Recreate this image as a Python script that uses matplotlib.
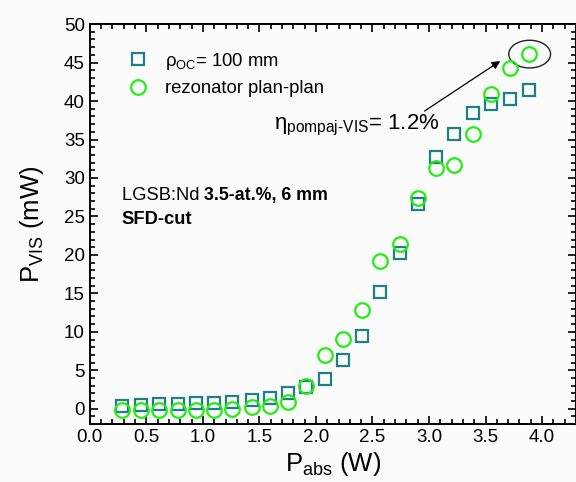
import matplotlib
matplotlib.use("Agg")
import matplotlib.pyplot as plt
from matplotlib.patches import Ellipse
from matplotlib.ticker import MultipleLocator

plt.rcParams['font.family'] = ['Liberation Sans', 'DejaVu Sans']
plt.rcParams['mathtext.fontset'] = 'custom'
plt.rcParams['mathtext.rm'] = 'Liberation Sans'
plt.rcParams['mathtext.it'] = 'Liberation Sans'
plt.rcParams['mathtext.bf'] = 'Liberation Sans:bold'

# absorbed pump power (W)
p_abs = [0.28, 0.45, 0.61, 0.78, 0.94, 1.10, 1.26, 1.43, 1.59, 1.75, 1.91,
         2.08, 2.24, 2.41, 2.57, 2.74, 2.90, 3.06, 3.22, 3.39, 3.55, 3.72, 3.88]
# visible output (mW), rho_OC = 100 mm
p_vis_oc = [0.4, 0.5, 0.6, 0.6, 0.7, 0.7, 0.9, 1.1, 1.4, 2.1, 2.8,
            3.9, 6.4, 9.4, 15.2, 20.2, 26.6, 32.7, 35.7, 38.4, 39.6, 40.3, 41.4]
# visible output (mW), plan-plan resonator
p_vis_pp = [-0.1, -0.1, -0.1, -0.1, -0.1, -0.1, 0.0, 0.2, 0.4, 0.9, 2.9,
            7.0, 9.1, 12.9, 19.2, 21.4, 27.4, 31.3, 31.7, 35.7, 40.9, 44.3, 46.1]

teal = '#1f7f88'
green = '#22ee11'

fig = plt.figure(figsize=(5.76, 4.82), dpi=100, facecolor='#fbfbfb')
ax = fig.add_axes([0.156, 0.12, 0.844, 0.83], facecolor='#fbfbfb')

ax.plot(p_abs, p_vis_oc, linestyle='none', marker='s', ms=9, mfc='none',
        mec=teal, mew=1.6, label=r'$\rho_{\mathrm{OC}}$= 100 mm')
ax.plot(p_abs, p_vis_pp, linestyle='none', marker='o', ms=10.5, mfc='none',
        mec=green, mew=1.6, label='rezonator plan-plan')

ax.set_xlim(0, 4.3)
ax.set_ylim(-2, 50)
ax.xaxis.set_major_locator(MultipleLocator(0.5))
ax.xaxis.set_minor_locator(MultipleLocator(0.1))
ax.yaxis.set_major_locator(MultipleLocator(5))
ax.yaxis.set_minor_locator(MultipleLocator(1))
ax.xaxis.set_major_formatter(plt.FormatStrFormatter('%.1f'))
ax.tick_params(which='both', direction='in', top=True, right=True,
               labelsize=13.5, width=1.2)
ax.tick_params(which='major', length=6)
ax.tick_params(which='minor', length=3.5)
for s in ax.spines.values():
    s.set_linewidth(1.4)

ax.set_xlabel(r'P$_{\mathrm{abs}}$ (W)', fontsize=18.5, labelpad=3)
ax.set_ylabel(r'P$_{\mathrm{VIS}}$ (mW)', fontsize=18.5, labelpad=13)

ax.legend(loc='upper left', bbox_to_anchor=(0.045, 0.975), frameon=False,
          fontsize=13.3, handletextpad=1.0, labelspacing=0.45, handlelength=1.0)

# sample description, regular + bold parts
t1 = ax.text(0.28, 27.1, 'LGSB:Nd ', fontsize=13.2)
ax.annotate('3.5-at.%, 6 mm', xycoords=t1, xy=(1, 0), va='bottom',
            fontsize=12.8, fontweight='bold')
ax.text(0.28, 24.0, 'SFD-cut', fontsize=13.2, fontweight='bold')

ax.text(1.63, 36.3, r'$\eta_{\mathrm{pompaj\text{-}VIS}}$= 1.2%', fontsize=16)

ax.annotate('', xy=(3.65, 45.4), xytext=(2.94, 38.5),
            arrowprops=dict(arrowstyle='-|>', color='black', lw=0.9,
                            mutation_scale=12))
ax.add_patch(Ellipse((3.89, 46.1), 0.37, 3.6, fill=False, edgecolor='#222222', lw=1.0))

fig.savefig('out.png', dpi=100, facecolor=fig.get_facecolor())
